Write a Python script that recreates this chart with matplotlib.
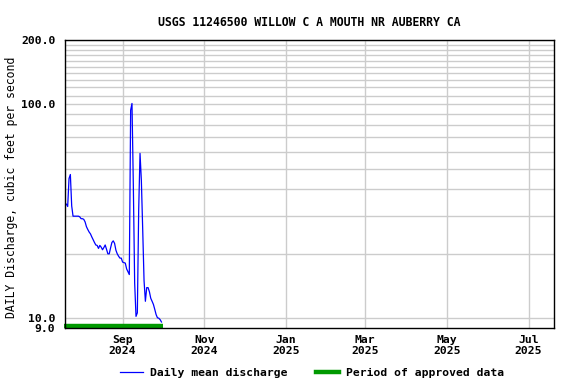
import matplotlib
matplotlib.use("Agg")
import matplotlib.pyplot as plt
import matplotlib.dates as mdates
from matplotlib.lines import Line2D
import numpy as np
import pandas as pd

### data
start_date = "2024-07-20"
discharge = [34.2, 34.2, 33.3, 45.0, 47.0, 33.5, 30.0, 30.0, 30.0, 30.0,
             30.0, 29.8, 29.2, 29.2, 29.0, 28.2, 26.8, 26.0, 25.3, 24.8,
             24.0, 23.3, 22.6, 22.0, 21.9, 21.2, 21.9, 21.5, 20.9, 21.4,
             22.0, 21.0, 20.0, 20.0, 21.3, 22.6, 23.0, 22.4, 20.8, 20.0,
             19.5, 19.1, 19.1, 18.3, 18.2, 18.1, 17.0, 16.5, 16.0, 94.0,
             101.0, 42.0, 14.6, 10.2, 10.6, 32.0, 59.0, 44.0, 26.0, 15.0,
             12.0, 13.9, 13.9, 13.3, 12.4, 12.0, 11.6, 11.0, 10.4, 10.05,
             10.0, 9.85, 9.6]
dates = pd.date_range(start_date, periods=len(discharge), freq="D")

approved_start, approved_end = "2024-07-20", "2024-10-01"
x_start, x_end = "2024-07-20", "2025-07-20"
tick_dates = ["2024-09-01", "2024-11-01", "2025-01-01", "2025-03-01", "2025-05-01", "2025-07-01"]
y_labelled = [9, 10, 100, 200]
y_grid = list(range(10, 201, 10))

title = "USGS 11246500 WILLOW C A MOUTH NR AUBERRY CA"
ylabel = "DAILY Discharge, cubic feet per second"

plt.rcParams['font.family'] = ['DejaVu Sans Mono']
plt.rcParams['font.weight'] = 'bold'
plt.rcParams['font.size'] = 8.2

fig = plt.figure(figsize=(5.76, 3.84), dpi=100)
ax = fig.add_axes([65/576, 56/384, 489/576, 288/384])

ax.set_yscale('log')
ax.set_ylim(9, 200)
ax.set_xlim(pd.Timestamp(x_start), pd.Timestamp(x_end))

# grid
for v in y_grid:
    ax.axhline(v, color='#cccccc', lw=1, zorder=1)
for d in tick_dates:
    ax.axvline(pd.Timestamp(d), color='#cccccc', lw=1, zorder=1)

ax.plot(dates, discharge, color='#0000ff', lw=0.9, zorder=3)

# approved period bar along the bottom
ax.plot([pd.Timestamp(approved_start) - pd.Timedelta(days=1), pd.Timestamp(approved_end)],
        [0.008, 0.008], transform=ax.get_xaxis_transform(),
        color='#009900', lw=3.2, solid_capstyle='butt', clip_on=False, zorder=4)

ax.yaxis.set_minor_locator(matplotlib.ticker.NullLocator())
ax.set_yticks(y_labelled)
ax.set_yticklabels(["%.1f" % v for v in y_labelled])
ax.set_xticks([pd.Timestamp(d) for d in tick_dates])
ax.xaxis.set_major_formatter(mdates.DateFormatter("%b\n%Y"))
ax.tick_params(axis='both', length=0)
ax.tick_params(axis='y', pad=7)
ax.tick_params(axis='x', pad=5)
for lab in ax.get_xticklabels():
    lab.set_linespacing(1.1)

for s in ax.spines.values():
    s.set_linewidth(1.0)
    s.set_zorder(5)

ax.set_title(title, fontsize=8.3, fontweight='bold', pad=10)
ax.set_ylabel(ylabel, fontsize=8.3)
ax.yaxis.set_label_coords(-0.097, 0.49)

handles = [Line2D([], [], color='#0000ff', lw=0.9),
           Line2D([], [], color='#009900', lw=3.2)]
fig.legend(handles, ["Daily mean discharge", "Period of approved data"],
           loc='center', bbox_to_anchor=(312/576, 1 - 373/384), ncol=2,
           frameon=False, handlelength=2.0, columnspacing=2.5, handletextpad=0.6)

fig.savefig("out.png", dpi=100)
